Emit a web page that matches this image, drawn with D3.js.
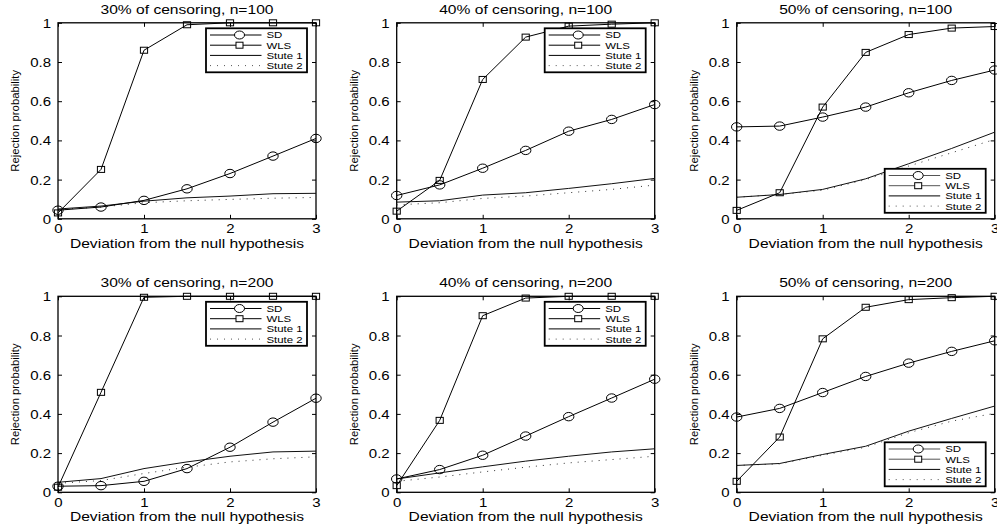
<!DOCTYPE html>
<html>
<head>
<meta charset="utf-8">
<script src="https://cdn.jsdelivr.net/npm/d3@7"></script>
<style>
  html, body { margin: 0; padding: 0; background: #fff; }
  svg { display: block; font-family: "Liberation Sans", Arial, Helvetica, sans-serif; }
</style>
</head>
<body>
<script>
// ---------- data ----------
const xValues = [0, 0.5, 1, 1.5, 2, 2.5, 3];
const panelTitles = [
  "30% of censoring, n=100", "40% of censoring, n=100", "50% of censoring, n=100",
  "30% of censoring, n=200", "40% of censoring, n=200", "50% of censoring, n=200"
];
const seriesNames = ["SD", "WLS", "Stute 1", "Stute 2"];
const xTickValues = [0, 1, 2, 3];
const xTickLabels = ["0", "1", "2", "3"];
const yTickValues = [0, 0.2, 0.4, 0.6, 0.8, 1];
const yTickLabels = ["0", "0.2", "0.4", "0.6", "0.8", "1"];
const xAxisTitle = "Deviation from the null hypothesis";
const yAxisTitle = "Rejection probability";

const sdValues = [
  [0.044, 0.060, 0.094, 0.153, 0.231, 0.320, 0.410],
  [0.119, 0.173, 0.258, 0.349, 0.447, 0.507, 0.583],
  [0.469, 0.473, 0.519, 0.570, 0.643, 0.706, 0.759],
  [0.031, 0.034, 0.056, 0.121, 0.230, 0.358, 0.480],
  [0.068, 0.116, 0.189, 0.287, 0.386, 0.481, 0.577],
  [0.384, 0.428, 0.509, 0.591, 0.659, 0.719, 0.773]
];
const wlsValues = [
  [0.030, 0.252, 0.860, 0.990, 1.000, 1.000, 1.000],
  [0.039, 0.196, 0.711, 0.927, 0.983, 0.993, 1.000],
  [0.043, 0.133, 0.570, 0.849, 0.940, 0.973, 0.981],
  [0.026, 0.510, 0.995, 1.000, 1.000, 1.000, 1.000],
  [0.034, 0.367, 0.901, 0.991, 1.000, 1.000, 1.000],
  [0.056, 0.282, 0.783, 0.944, 0.983, 0.993, 1.000]
];
const stute1Values = [
  [0.050, 0.065, 0.090, 0.107, 0.116, 0.128, 0.130],
  [0.085, 0.092, 0.121, 0.133, 0.155, 0.179, 0.206],
  [0.110, 0.124, 0.150, 0.204, 0.281, 0.359, 0.442],
  [0.051, 0.070, 0.121, 0.155, 0.184, 0.206, 0.210],
  [0.068, 0.099, 0.130, 0.159, 0.184, 0.206, 0.222],
  [0.137, 0.147, 0.193, 0.235, 0.312, 0.377, 0.440]
];
const stute2Values = [
  [0.048, 0.060, 0.082, 0.092, 0.099, 0.105, 0.109],
  [0.071, 0.082, 0.104, 0.116, 0.133, 0.150, 0.172],
  [0.110, 0.124, 0.146, 0.200, 0.269, 0.337, 0.405],
  [0.046, 0.060, 0.096, 0.128, 0.155, 0.171, 0.181],
  [0.056, 0.078, 0.104, 0.128, 0.150, 0.167, 0.184],
  [0.137, 0.145, 0.189, 0.230, 0.304, 0.363, 0.403]
];
const legendCorner = ["top", "top", "bottom", "top", "top", "bottom"];

// ---------- layout ----------
const W = 997, H = 529;
const colLeft = [58, 396.7, 736.7];
const rowTop = [22.8, 296.3];
const pw = 258, ph = 196;
const STRETCH = 1.2; // reference glyphs are horizontally widened

function widen(sel, f) {
  sel.each(function () {
    const len = this.getComputedTextLength();
    if (len > 0) {
      d3.select(this).attr("textLength", len * f).attr("lengthAdjust", "spacingAndGlyphs");
    }
  });
}

const svg = d3.select("body").append("svg").attr("width", W).attr("height", H);

panelTitles.forEach((title, i) => {
  const r = Math.floor(i / 3), c = i % 3;
  const g = svg.append("g").attr("transform", `translate(${colLeft[c]},${rowTop[r]})`);
  const x = d3.scaleLinear().domain([0, 3]).range([0, pw]);
  const y = d3.scaleLinear().domain([0, 1]).range([ph, 0]);

  // axes with inward ticks
  const axL = g.append("g").call(d3.axisLeft(y).tickValues(yTickValues)
      .tickFormat((d, k) => yTickLabels[k]).tickSizeInner(-4).tickSizeOuter(0).tickPadding(7));
  const axR = g.append("g").attr("transform", `translate(${pw},0)`)
      .call(d3.axisRight(y).tickValues(yTickValues).tickFormat("").tickSizeInner(-4).tickSizeOuter(0));
  const axB = g.append("g").attr("transform", `translate(0,${ph})`)
      .call(d3.axisBottom(x).tickValues(xTickValues)
      .tickFormat((d, k) => xTickLabels[k]).tickSizeInner(-4).tickSizeOuter(0).tickPadding(14.5));
  const axT = g.append("g")
      .call(d3.axisTop(x).tickValues(xTickValues).tickFormat("").tickSizeInner(-4).tickSizeOuter(0));
  [axL, axR, axB, axT].forEach(a => {
    a.select(".domain").remove();
    a.selectAll("line").attr("stroke", "#000");
    a.selectAll("text").attr("fill", "#000").attr("font-size", 12.5)
      .attr("font-family", "'Liberation Sans', Arial, sans-serif");
  });
  axB.selectAll("text").attr("dy", "0em");
  axL.selectAll("text").attr("dy", "0.36em");
  widen(axL.selectAll("text"), STRETCH);
  widen(axB.selectAll("text"), STRETCH);

  // box
  g.append("rect").attr("x", 0).attr("y", 0).attr("width", pw).attr("height", ph)
    .attr("fill", "none").attr("stroke", "#000").attr("stroke-width", 1.3);

  // titles
  const t1 = g.append("text").attr("x", pw / 2).attr("y", -9).attr("text-anchor", "middle")
    .attr("font-size", 13).text(title);
  widen(t1, STRETCH);
  const t2 = g.append("text").attr("x", pw / 2).attr("y", ph + 29).attr("text-anchor", "middle")
    .attr("font-size", 13).text(xAxisTitle);
  widen(t2, STRETCH);
  g.append("text").attr("transform", `translate(${-42},${ph / 2}) rotate(-90)`)
    .attr("text-anchor", "middle").attr("dominant-baseline", "middle")
    .attr("font-size", 11.3).text(yAxisTitle);

  const line = d3.line().x((d, k) => x(xValues[k])).y(d => y(d));
  // Stute 2 dotted
  g.append("path").attr("d", line(stute2Values[i])).attr("fill", "none")
    .attr("stroke", "#333").attr("stroke-width", 1).attr("stroke-dasharray", "1,6");
  // Stute 1 solid
  g.append("path").attr("d", line(stute1Values[i])).attr("fill", "none")
    .attr("stroke", "#111").attr("stroke-width", 1);
  // SD
  g.append("path").attr("d", line(sdValues[i])).attr("fill", "none")
    .attr("stroke", "#000").attr("stroke-width", 1);
  g.selectAll(".sdm").data(sdValues[i]).enter().append("ellipse")
    .attr("cx", (d, k) => x(xValues[k])).attr("cy", d => y(d))
    .attr("rx", 5.2).attr("ry", 4.2).attr("fill", "none").attr("stroke", "#000").attr("stroke-width", 1);
  // WLS
  g.append("path").attr("d", line(wlsValues[i])).attr("fill", "none")
    .attr("stroke", "#000").attr("stroke-width", 1);
  g.selectAll(".wlsm").data(wlsValues[i]).enter().append("rect")
    .attr("x", (d, k) => x(xValues[k]) - 3.6).attr("y", d => y(d) - 3)
    .attr("width", 7.2).attr("height", 6).attr("fill", "none").attr("stroke", "#000").attr("stroke-width", 1);

  // legend
  const lw = 101, lh = 44;
  const lx = pw - 9 - lw;
  const ly = legendCorner[i] === "top" ? 5.5 : ph - 6 - lh;
  const lg = g.append("g").attr("transform", `translate(${lx},${ly})`);
  lg.append("rect").attr("width", lw).attr("height", lh).attr("fill", "#fff")
    .attr("stroke", "#000").attr("stroke-width", 1.8);
  seriesNames.forEach((name, k) => {
    const yy = 6.7 + k * 10.2;
    const ln = lg.append("line").attr("x1", 4).attr("x2", 55.5).attr("y1", yy).attr("y2", yy)
      .attr("stroke", k < 2 && legendCorner[i] === "bottom" ? "#555" : "#000").attr("stroke-width", 1);
    if (k === 3) ln.attr("stroke", "#555").attr("stroke-dasharray", "1,6");
    if (k === 0) lg.append("ellipse").attr("cx", 33.5).attr("cy", yy).attr("rx", 5).attr("ry", 4)
      .attr("fill", "#fff").attr("stroke", "#000");
    if (k === 1) lg.append("rect").attr("x", 30).attr("y", yy - 3).attr("width", 7).attr("height", 6)
      .attr("fill", "#fff").attr("stroke", "#000");
    const tx = lg.append("text").attr("x", 60.5).attr("y", yy).attr("dominant-baseline", "central")
      .attr("font-size", 9.5).text(name);
    widen(tx, STRETCH);
  });
});
</script>
</body>
</html>
